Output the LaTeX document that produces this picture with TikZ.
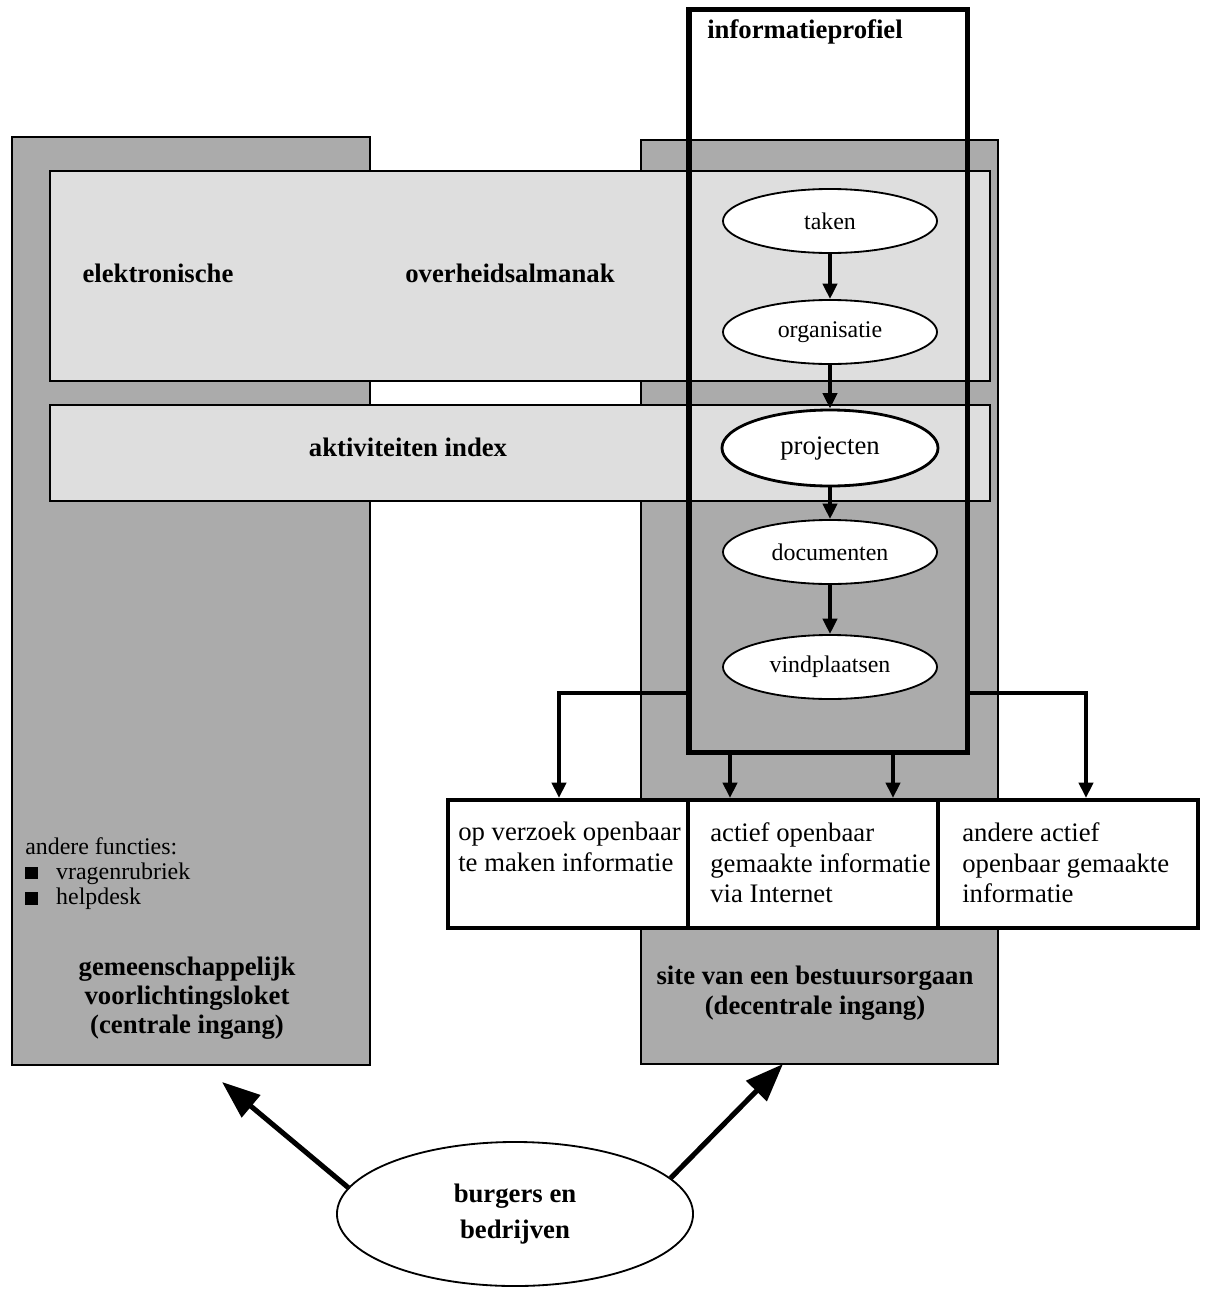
\documentclass[tikz,border=0pt]{standalone}
\usepackage{fontspec}
\setmainfont{Liberation Serif}
\usetikzlibrary{arrows.meta,shapes.geometric}

\tikzset{
	column/.style={draw=black, line width=1.2pt, fill=black!33},
	band/.style={draw=black, line width=1.2pt, fill=black!13},
	profielbox/.style={draw=black, line width=3.6pt, rectangle, inner sep=0pt, minimum width=6.95cm, minimum height=18.55cm},
	stage/.style={ellipse, draw=black, line width=1.3pt, fill=white, inner sep=0pt, minimum width=5.35cm, minimum height=1.6cm, font=\fontsize{17}{20}\selectfont},
	infobox/.style={draw=black, line width=2.8pt, fill=white, rectangle, inner sep=0pt, minimum height=3.2cm},
	infotext/.style={anchor=north west, inner sep=0pt, align=left, font=\fontsize{19}{22}\selectfont},
	heading/.style={inner sep=0pt, align=center, font=\fontsize{19}{20.5}\selectfont\bfseries},
	flow/.style={line width=2.8pt, -{Triangle[length=11pt,width=10pt]}},
	bigarrow/.style={line width=3.6pt, -{Triangle[length=27pt,width=20pt]}}
}

\begin{document}
\begin{tikzpicture}[x=0.025cm, y=-0.025cm]
			%%%%% START %%%%%
			\useasboundingbox (0,0) rectangle (1207,1289);
			
			% the two entrances
			\draw[column] (12,137) rectangle (370,1065);
			\draw[column] (641,140) rectangle (998,1064);
			
			% almanak and index
			\draw[band] (50,171) rectangle (990,381);
			\draw[band] (50,405) rectangle (990,501);
			
			\node[profielbox] (profiel) at (828,381) {};
			\node[heading] (proftitle) at (805,32) {informatieprofiel};
			
			\node[heading] (almanak1) at (158,273) {elektronische};
			\node[heading] (almanak2) at (510,273) {overheidsalmanak};
			\node[heading] (index) at (408,447) {aktiviteiten index};
			
			\node[stage] (taken) at (830,221) {taken};
			\node[stage] (organisatie) at (830,332) {organisatie};
			\node[stage, line width=2pt, minimum width=5.4cm, minimum height=1.9cm, font=\fontsize{19}{22}\selectfont] (projecten) at (830,448) {projecten};
			\node[stage] (documenten) at (830,552) {documenten};
			\node[stage] (vindplaatsen) at (830,667) {vindplaatsen};
			
			\draw[flow] (taken) -- (organisatie);
			\draw[flow] (organisatie) -- (projecten);
			\draw[flow] (projecten) -- (documenten);
			\draw[flow] (documenten) -- (vindplaatsen);
			
			% kinds of information
			\node[infobox, minimum width=6cm] (verzoek) at (568,864) {};
			\node[infobox, minimum width=6.25cm] (actief) at (813,864) {};
			\node[infobox, minimum width=6.5cm] (andere) at (1068,864) {};
			
			\node[infotext] (verzoektxt) at (458,822) {op verzoek openbaar\\te maken informatie};
			\node[infotext] (actieftxt) at (710,822) {actief openbaar\\gemaakte informatie\\via Internet};
			\node[infotext] (anderetxt) at (962,822) {andere actief\\openbaar gemaakte\\informatie};
			
			\coordinate (leftdrop) at (559,693);
			\coordinate (rightdrop) at (1086,693);
			\coordinate (dropa) at (730,752);
			\coordinate (dropb) at (893,752);
			
			\draw[flow] (profiel.west |- leftdrop) -| (verzoek.north -| leftdrop);
			\draw[flow] (profiel.east |- rightdrop) -| (andere.north -| rightdrop);
			\draw[flow] (profiel.south -| dropa) -- (actief.north -| dropa);
			\draw[flow] (profiel.south -| dropb) -- (actief.north -| dropb);
			
			\node[anchor=north west, inner sep=0pt, align=left, font=\fontsize{17}{18}\selectfont] (functies) at (25,837) {andere functies:\\\rule{9pt}{9pt}\hspace{13pt}vragenrubriek\\\rule{9pt}{9pt}\hspace{13pt}helpdesk};
			
			\node[heading] (loket) at (187,998) {gemeenschappelijk\\voorlichtingsloket\\(centrale ingang)};
			\node[heading, font=\fontsize{19}{21.5}\selectfont\bfseries] (site) at (815,993) {site van een bestuursorgaan\\(decentrale ingang)};
			
			% who uses it
			\node[ellipse, draw=black, line width=1.3pt, fill=white, inner sep=0pt, minimum width=8.9cm, minimum height=3.6cm, align=center, font=\fontsize{19}{26}\selectfont\bfseries] (burgers) at (515,1214) {burgers en\\bedrijven};
			
			\coordinate (lokettip) at (222,1082);
			\coordinate (sitetip) at (783,1064);
			\draw[bigarrow] (burgers.171) -- (lokettip);
			\draw[bigarrow] (burgers.13) -- (sitetip);
			
			%%%%% END %%%%%
		\end{tikzpicture}
\end{document}
